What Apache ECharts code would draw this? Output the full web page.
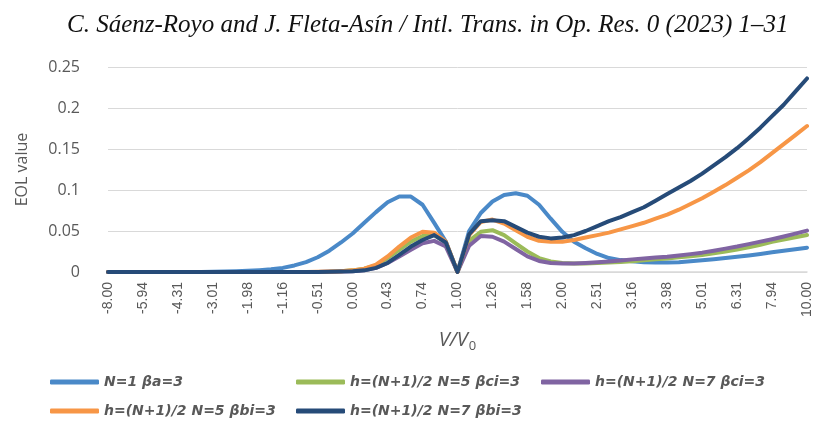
<!DOCTYPE html>
<html>
<head>
<meta charset="utf-8">
<script src="https://cdn.jsdelivr.net/npm/echarts@6/dist/echarts.min.js"></script>
<style>
html,body{margin:0;padding:0;background:#fff;}
#c{width:814px;height:425px;}
</style>
</head>
<body>
<div id="c"></div>
<script>
var categories = [
  "-8.00","-7.26","-6.58","-5.94","-5.36","-4.81","-4.31","-3.84","-3.41","-3.01",
  "-2.64","-2.30","-1.98","-1.69","-1.41","-1.16","-0.93","-0.71","-0.51","-0.33",
  "-0.15","0.00","0.15","0.29","0.43","0.53","0.64","0.74","0.83","0.92","1.00",
  "1.08","1.17","1.26","1.36","1.47","1.58","1.71","1.85","2.00","2.15",
  "2.33","2.51","2.71","2.93","3.16","3.41","3.69","3.98","4.30","4.64",
  "5.01","5.41","5.84","6.31","6.81","7.36","7.94","8.58","9.26","10.00"
];
var seriesNames = [
  "N=1 βa=3",
  "h=(N+1)/2 N=5 βci=3",
  "h=(N+1)/2 N=7 βci=3",
  "h=(N+1)/2 N=5 βbi=3",
  "h=(N+1)/2 N=7 βbi=3"
];
var blueN1 = [
  0,0,0,0,0,0,0,0,0.0001,0.0003,
  0.0005,0.0009,0.0014,0.0022,0.0033,0.005,0.008,0.012,0.018,0.026,
  0.036,0.047,0.06,0.073,0.085,0.092,0.092,0.082,0.06,0.037,0,
  0.05,0.072,0.086,0.094,0.096,0.093,0.082,0.065,0.049,0.037,
  0.029,0.022,0.017,0.0145,0.013,0.012,0.0115,0.0115,0.012,0.013,
  0.0143,0.0155,0.017,0.0185,0.0202,0.022,0.024,0.0258,0.0278,0.0297
];
var greenN5ci = [
  0,0,0,0,0,0,0,0,0,0,
  0,0,0,0,0,0,0,0,0,0.0003,
  0.001,0.002,0.004,0.008,0.017,0.027,0.037,0.044,0.045,0.036,0,
  0.038,0.049,0.051,0.045,0.035,0.025,0.017,0.0128,0.011,0.0105,
  0.0105,0.011,0.0115,0.0122,0.013,0.0143,0.0154,0.0166,0.018,0.0193,
  0.0207,0.0228,0.025,0.0275,0.03,0.0333,0.0368,0.0395,0.0423,0.0452
];
var purpleN7ci = [
  0,0,0,0,0,0,0,0,0,0,
  0,0,0,0,0,0,0,0,0,0.0002,
  0.0005,0.001,0.002,0.005,0.011,0.019,0.027,0.035,0.038,0.031,0,
  0.032,0.044,0.043,0.037,0.028,0.019,0.0135,0.011,0.0105,0.0105,
  0.011,0.0118,0.0128,0.014,0.0154,0.0165,0.0176,0.0187,0.0202,0.0218,
  0.0236,0.026,0.0285,0.031,0.034,0.037,0.04,0.0433,0.0468,0.0505
];
var orangeN5bi = [
  0,0,0,0,0,0,0,0,0,0,
  0,0,0,0,0,0,0,0,0.0002,0.0005,
  0.001,0.002,0.004,0.009,0.019,0.031,0.042,0.049,0.048,0.037,0,
  0.045,0.061,0.064,0.059,0.051,0.043,0.038,0.037,0.037,0.039,
  0.042,0.045,0.048,0.052,0.056,0.06,0.065,0.07,0.076,0.083,
  0.09,0.098,0.106,0.115,0.124,0.134,0.145,0.156,0.167,0.178
];
var navyN7bi = [
  0,0,0,0,0,0,0,0,0,0,
  0,0,0,0,0,0,0,0,0,0.0002,
  0.0005,0.001,0.002,0.005,0.011,0.021,0.031,0.039,0.045,0.036,0,
  0.046,0.062,0.063,0.062,0.055,0.048,0.043,0.041,0.042,0.045,
  0.05,0.056,0.062,0.067,0.073,0.079,0.087,0.095,0.103,0.111,
  0.12,0.13,0.14,0.151,0.163,0.176,0.19,0.204,0.22,0.236
];
var yTicks = [0, 0.05, 0.1, 0.15, 0.2, 0.25];
var colors = ["#4a89c8", "#9bbb59", "#8064a2", "#f79646", "#264b78"];
var allData = [blueN1, greenN5ci, purpleN7ci, orangeN5bi, navyN7bi];

var chart = echarts.init(document.getElementById('c'), null, {renderer: 'canvas'});
var series = allData.map(function (d, k) {
  return {
    name: seriesNames[k],
    type: 'line',
    data: d,
    symbol: 'none',
    smooth: false,
    color: colors[k],
    lineStyle: {width: 4, color: colors[k], cap: 'round', join: 'round'},
    emphasis: {disabled: true}
  };
});
var legendSlots = [[50, 375], [296, 375], [541, 375], [50, 404], [296, 404]];
var legends = seriesNames.map(function (nm, k) {
  return {
    left: legendSlots[k][0],
    top: legendSlots[k][1],
    data: [nm],
    icon: 'roundRect',
    itemWidth: 49,
    itemHeight: 5,
    padding: 0,
    textStyle: {
      fontFamily: 'DejaVu Sans',
      fontSize: 14,
      fontWeight: 'bold',
      fontStyle: 'italic',
      color: '#595959'
    }
  };
});
var option = {
  animation: false,
  backgroundColor: '#ffffff',
  title: {
    text: 'C. Sáenz-Royo and J. Fleta-Asín / Intl. Trans. in Op. Res. 0 (2023) 1–31',
    left: 62,
    top: 8,
    textStyle: {
      fontFamily: 'Liberation Serif',
      fontStyle: 'italic',
      fontWeight: 'normal',
      fontSize: 25,
      color: '#111111'
    }
  },
  legend: legends,
  grid: {left: 108, right: 7, top: 67, bottom: 153, containLabel: false},
  xAxis: {
    type: 'category',
    data: categories,
    boundaryGap: false,
    name: '{i|V/V}{s|0}',
    nameLocation: 'middle',
    nameGap: 56,
    nameTextStyle: {
      rich: {
        i: {fontFamily: 'Open Sans', fontStyle: 'italic', fontSize: 20, color: '#595959'},
        s: {fontFamily: 'Open Sans', fontSize: 13, color: '#595959', padding: [12, 0, 0, 1]}
      }
    },
    axisLine: {show: true, lineStyle: {color: '#d9d9d9', width: 1.5}},
    axisTick: {show: false},
    axisLabel: {
      interval: 2,
      rotate: 90,
      margin: 10,
      fontFamily: 'Liberation Sans',
      fontSize: 14,
      color: '#595959'
    },
    splitLine: {show: false}
  },
  yAxis: {
    type: 'value',
    min: 0,
    max: 0.25,
    interval: 0.05,
    name: 'EOL value',
    nameLocation: 'middle',
    nameGap: 78,
    nameRotate: 90,
    nameTextStyle: {fontFamily: 'Open Sans', fontSize: 16, color: '#595959'},
    axisLine: {show: false},
    axisTick: {show: false},
    axisLabel: {
      margin: 28,
      fontFamily: 'Open Sans',
      fontSize: 16,
      color: '#595959',
      formatter: function (v) {
        for (var t = 0; t < yTicks.length; t++) {
          if (Math.abs(yTicks[t] - v) < 1e-9) return String(yTicks[t]);
        }
        return '';
      }
    },
    splitLine: {show: true, lineStyle: {color: '#d9d9d9', width: 1}}
  },
  series: series
};
chart.setOption(option);
</script>
</body>
</html>
